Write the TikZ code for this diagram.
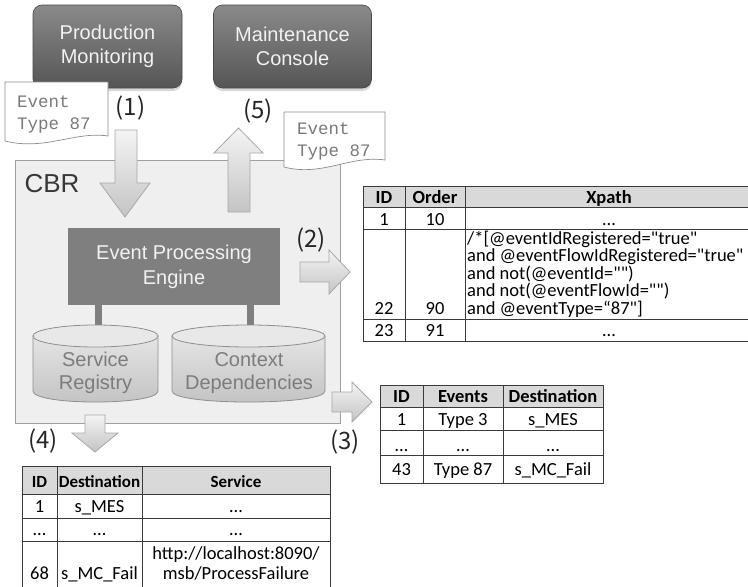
\documentclass[tikz,border=0pt]{standalone}
\usepackage{fontspec}
\setmainfont{Liberation Sans}
\newfontfamily\tabfont{Carlito}
\newfontfamily\docfont{Liberation Mono}
\newfontfamily\stepfont{Noto Sans CJK JP}
\usetikzlibrary{shadows}

\definecolor{boxtop}{HTML}{8A8A8A}
\definecolor{boxbot}{HTML}{555555}
\definecolor{boxtext}{HTML}{F2F2F2}
\definecolor{cbrfill}{HTML}{EFEFEF}
\definecolor{cbrline}{HTML}{A0A0A0}
\definecolor{engine}{HTML}{7F7F7F}
\definecolor{cyltop}{HTML}{E4E4E4}
\definecolor{cylbot}{HTML}{C2C2C2}
\definecolor{cyllid}{HTML}{E8E8E8}
\definecolor{cylline}{HTML}{8E8E8E}
\definecolor{cyltext}{HTML}{7C7C7C}
\definecolor{arrlight}{HTML}{F4F4F4}
\definecolor{arrdark}{HTML}{C4C4C4}
\definecolor{arrline}{HTML}{A8A8A8}
\definecolor{docline}{HTML}{8C8C8C}
\definecolor{doctext}{HTML}{7A7A7A}
\definecolor{headfill}{HTML}{D9D9D9}
\definecolor{rulecol}{HTML}{3A3A3A}

\tikzset{
  app/.style={rounded corners=9pt, top color=boxtop, bottom color=boxbot,
    draw=boxbot!85!black, line width=0.6pt, text=boxtext, align=center,
    font=\fontsize{20}{23.5}\selectfont,
    drop shadow={shadow xshift=0pt, shadow yshift=-3pt, opacity=0.3}},
  cbrbox/.style={fill=cbrfill, draw=cbrline, line width=1pt},
  enginebox/.style={fill=engine, text=boxtext, align=center,
    font=\fontsize{20}{25}\selectfont},
  link/.style={draw=engine, line width=7pt},
  cylbody/.style={draw=cylline, line width=0.8pt, top color=cyltop, bottom color=cylbot},
  cyllidstyle/.style={draw=cylline, line width=0.8pt, fill=cyllid},
  cyltxt/.style={text=cyltext, align=center, font=\fontsize{20}{23.5}\selectfont},
  blockarrow/.style={draw=arrline, line width=0.8pt, top color=arrlight,
    bottom color=arrdark, line join=miter},
  doc/.style={draw=docline, fill=white, line width=0.7pt},
  doctxt/.style={text=doctext, align=left, inner sep=0pt, anchor=north west,
    font=\docfont\fontsize{17.5}{22}\selectfont},
  steplabel/.style={text=black!85, font=\stepfont\fontsize{24}{26}\selectfont},
  rule/.style={draw=rulecol, line width=0.9pt},
  cell/.style={anchor=base, inner sep=0pt, text=black,
    font=\tabfont\fontsize{18.5}{18}\selectfont},
  headcell/.style={cell, font=\tabfont\bfseries\fontsize{18.5}{18}\selectfont},
  smallhead/.style={cell, font=\tabfont\bfseries\fontsize{17}{18}\selectfont},
}

\begin{document}
\begin{tikzpicture}[x=1pt,y=-1pt]
\fill[white] (0,0) rectangle (748,587);
\useasboundingbox (0,0) rectangle (748,587);

% client applications
\node[app, minimum width=149pt, minimum height=83pt] (pm) at (107.5,46.5) {Production\\Monitoring};
\node[app, minimum width=158pt, minimum height=83pt] (mc) at (292.5,46.5) {Maintenance\\Console};

% content based router
\draw[cbrbox] (15,160) rectangle (340,423);
\node[text=black!78, font=\fontsize{26}{30}\selectfont] (cbr) at (52,184) {CBR};

\node[enginebox, minimum width=212pt, minimum height=77pt] (epe) at (174,266.5) {Event Processing\\Engine};

\coordinate (srtop) at (98.5,332);
\coordinate (cdtop) at (250,332);
\draw[link] (epe.south -| srtop) -- (srtop);
\draw[link] (epe.south -| cdtop) -- (cdtop);

% service registry database
\shadedraw[cylbody] (33,336) -- (33,391) .. controls (33,405.7) and (158,405.7) .. (158,391) -- (158,336) -- cycle;
\filldraw[cyllidstyle] (95.5,336) ellipse [x radius=62.5, y radius=11];
\node[cyltxt] (sr) at (95.5,373) {Service\\Registry};

% context dependencies database
\shadedraw[cylbody] (172,336) -- (172,391) .. controls (172,405.7) and (325,405.7) .. (325,391) -- (325,336) -- cycle;
\filldraw[cyllidstyle] (248.5,336) ellipse [x radius=76.5, y radius=11];
\node[cyltxt] (cd) at (249,373) {Context\\Dependencies};

% (1) incoming event, (5) outgoing event
\shadedraw[blockarrow] (115,130) -- (137,130) -- (137,183) -- (150,183) -- (125,217) -- (100,183) -- (115,183) -- cycle;
\shadedraw[blockarrow] (228,212) -- (250,212) -- (250,153) -- (263,153) -- (238.5,128) -- (214,153) -- (228,153) -- cycle;

% event documents
\draw[doc] (5,82) -- (108,82) -- (108,136) .. controls (75,131) and (45,151) .. (5,141) -- cycle;
\node[doctxt] (ev1) at (17,96) {Event\\Type 87};
\draw[doc] (284,112) -- (385,112) -- (385,160) .. controls (350,155) and (322,177) .. (284,167) -- cycle;
\node[doctxt] (ev5) at (297,122.5) {Event\\Type 87};

% (2), (3), (4) lookups
\shadedraw[blockarrow] (300,262) -- (329,262) -- (329,250) -- (350,272) -- (329,294) -- (329,282) -- (300,282) -- cycle;
\shadedraw[blockarrow] (332,392) -- (352,392) -- (352,382) -- (372,402) -- (352,422) -- (352,412) -- (332,412) -- cycle;
\shadedraw[blockarrow] (85,415) -- (105,415) -- (105,433) -- (118,433) -- (95,452) -- (72,433) -- (85,433) -- cycle;

% step labels
\node[steplabel] (s1) at (130.5,108.5) {(1)};
\node[steplabel] (s5) at (258,111) {(5)};
\node[steplabel] (s2) at (311,240) {(2)};
\node[steplabel] (s3) at (345,442) {(3)};
\node[steplabel] (s4) at (43,441) {(4)};

% routing rules table
\fill[headfill] (363,186) rectangle (752,207);
\draw[rule] (363,186) -- (752,186) (363,207) -- (752,207) (363,229) -- (752,229)
  (363,319) -- (752,319) (363,341) -- (752,341);
\draw[rule] (363,186) -- (363,341) (405,186) -- (405,341) (465,186) -- (465,341);
\node[headcell] (xh1) at (384,203) {ID};
\node[headcell] (xh2) at (435,203) {Order};
\node[headcell] (xh3) at (609,203) {Xpath};
\node[cell] (xa1) at (384,225) {1};
\node[cell] (xa2) at (435,225) {10};
\node[cell] (xa3) at (609,225) {…};
\node[cell] (xb1) at (384,314) {22};
\node[cell] (xb2) at (435,314) {90};
\node[cell, anchor=base west] (xp1) at (467,244) {/*[@eventIdRegistered="true"};
\node[cell, anchor=base west] (xp2) at (467,261.5) {and @eventFlowIdRegistered="true"};
\node[cell, anchor=base west] (xp3) at (467,279) {and not(@eventId="")};
\node[cell, anchor=base west] (xp4) at (467,296.5) {and not(@eventFlowId="")};
\node[cell, anchor=base west] (xp5) at (467,314) {and @eventType=“87"]};
\node[cell] (xc1) at (384,336) {23};
\node[cell] (xc2) at (435,336) {91};
\node[cell] (xc3) at (609,336) {…};

% event destination table
\fill[headfill] (380,385) rectangle (603,407);
\draw[rule] (380,385) rectangle (603,483);
\draw[rule] (380,407) -- (603,407) (380,430) -- (603,430) (380,455) -- (603,455);
\draw[rule] (423,385) -- (423,483) (503,385) -- (503,483);
\node[headcell] (eh1) at (401.5,402) {ID};
\node[headcell] (eh2) at (463,402) {Events};
\node[headcell] (eh3) at (553,402) {Destination};
\node[cell] (ea1) at (401.5,425) {1};
\node[cell] (ea2) at (463,425) {Type 3};
\node[cell] (ea3) at (553,425) {s\_MES};
\node[cell] (eb1) at (401.5,451) {…};
\node[cell] (eb2) at (463,451) {…};
\node[cell] (eb3) at (553,451) {…};
\node[cell] (ec1) at (401.5,475) {43};
\node[cell] (ec2) at (463,475) {Type 87};
\node[cell] (ec3) at (553,475) {s\_MC\_Fail};

% service table
\fill[headfill] (22,466) rectangle (330,494);
\draw[rule] (22,466) -- (330,466) (22,494) -- (330,494) (22,518) -- (330,518) (22,541) -- (330,541);
\draw[rule] (22,466) -- (22,590) (57,466) -- (57,590) (142,466) -- (142,590) (330,466) -- (330,590);
\node[smallhead] (sh1) at (39.5,487) {ID};
\node[smallhead] (sh2) at (99.5,487) {Destination};
\node[smallhead] (sh3) at (236,487) {Service};
\node[cell] (sa1) at (39.5,512) {1};
\node[cell] (sa2) at (99.5,512) {s\_MES};
\node[cell] (sa3) at (236,512) {…};
\node[cell] (sb1) at (39.5,535) {…};
\node[cell] (sb2) at (99.5,535) {…};
\node[cell] (sb3) at (236,535) {…};
\node[cell] (sc1) at (39.5,579) {68};
\node[cell] (sc2) at (99.5,579) {s\_MC\_Fail};
\node[cell] (sc3) at (236,559) {http://localhost:8090/};
\node[cell] (sc4) at (236,579) {msb/ProcessFailure};
\end{tikzpicture}
\end{document}
